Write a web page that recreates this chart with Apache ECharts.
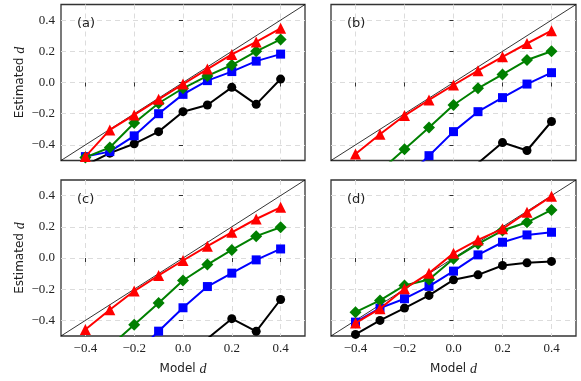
<!DOCTYPE html>
<html>
<head>
<meta charset="utf-8">
<script src="https://cdn.jsdelivr.net/npm/echarts@6/dist/echarts.min.js"></script>
<style>
  html, body { margin: 0; padding: 0; background: #fff; }
  #chart { width: 581px; height: 381px; }
</style>
</head>
<body>
<div id="chart"></div>
<script>
const modelD = [-0.4, -0.3, -0.2, -0.1, 0.0, 0.1, 0.2, 0.3, 0.4]
const ticks = [-0.4, -0.2, 0.0, 0.2, 0.4]
const diagonal = [[-0.5, -0.5], [0.5, 0.5]]
const panelLabels = ['(a)', '(b)', '(c)', '(d)']

// estimated d for each panel: red, green, blue, black
const redA = [-0.475, -0.304, -0.208, -0.108, -0.01, 0.086, 0.18, 0.26, 0.347]
const greenA = [-0.48, -0.417, -0.26, -0.133, -0.037, 0.042, 0.112, 0.2, 0.276]
const blueA = [-0.475, -0.443, -0.342, -0.2, -0.076, 0.012, 0.07, 0.137, 0.182]
const blackA = [-0.53, -0.453, -0.393, -0.315, -0.187, -0.144, -0.031, -0.14, 0.022]

const redB = [-0.458, -0.332, -0.212, -0.112, -0.016, 0.076, 0.165, 0.25, 0.332]
const greenB = [-0.72, -0.567, -0.428, -0.289, -0.144, -0.037, 0.052, 0.144, 0.2]
const blueB = [-0.9, -0.77, -0.62, -0.469, -0.315, -0.187, -0.097, -0.01, 0.063]
const blackB = [-0.9, -0.8, -0.7, -0.6, -0.55, -0.517, -0.385, -0.436, -0.25]

const redC = [-0.458, -0.332, -0.212, -0.112, -0.016, 0.076, 0.165, 0.25, 0.325]
const greenC = [-0.72, -0.567, -0.428, -0.289, -0.144, -0.042, 0.052, 0.14, 0.197]
const blueC = [-0.9, -0.77, -0.62, -0.469, -0.319, -0.183, -0.097, -0.012, 0.058]
const blackC = [-0.9, -0.8, -0.7, -0.6, -0.55, -0.517, -0.389, -0.47, -0.266]

const redD = [-0.417, -0.325, -0.197, -0.097, 0.031, 0.116, 0.187, 0.293, 0.396]
const greenD = [-0.347, -0.272, -0.176, -0.138, -0.005, 0.091, 0.176, 0.229, 0.308]
const blueD = [-0.411, -0.321, -0.261, -0.182, -0.084, 0.02, 0.101, 0.148, 0.165]
const blackD = [-0.49, -0.4, -0.321, -0.24, -0.14, -0.108, -0.048, -0.031, -0.022]

const panels = [
  [redA, greenA, blueA, blackA],
  [redB, greenB, blueB, blackB],
  [redC, greenC, blueC, blackC],
  [redD, greenD, blueD, blackD]
]

const styles = [
  { color: '#ff0000', symbol: 'triangle', size: 11 },
  { color: '#008000', symbol: 'diamond', size: 12 },
  { color: '#0000ff', symbol: 'rect', size: 9 },
  { color: '#000000', symbol: 'circle', size: 9 }
]

const grids = [
  { left: 61, top: 4.5, width: 244, height: 156 },
  { left: 331, top: 4.5, width: 245, height: 156 },
  { left: 61, top: 180, width: 244, height: 156 },
  { left: 331, top: 180, width: 245, height: 156 }
]

const fmt = v => (v < 0 ? '\u2212' : '') + Math.abs(v).toFixed(1)
const tickFont = { fontFamily: 'Liberation Serif', fontSize: 13, color: '#222' }
const nameStyle = {
  fontFamily: 'DejaVu Sans', fontSize: 12, color: '#222',
  rich: { i: { fontFamily: 'Liberation Serif', fontStyle: 'italic', fontSize: 14, color: '#222' } }
}

const chart = echarts.init(document.getElementById('chart'), null, { renderer: 'canvas' })

const makeAxis = (i, showLabel, name, gap) => ({
  gridIndex: i,
  type: 'value',
  min: -0.5,
  max: 0.5,
  interval: 0.1,
  name: name,
  nameLocation: 'middle',
  nameGap: gap,
  nameTextStyle: nameStyle,
  axisLine: { show: false },
  axisTick: {
    show: true, length: 4, lineStyle: { color: '#333', width: 1 },
    customValues: ticks
  },
  axisLabel: {
    show: showLabel, ...tickFont, margin: 6, formatter: fmt,
    customValues: ticks
  },
  splitLine: {
    show: true,
    lineStyle: { color: '#dcdcdc', type: [5, 4], width: 1 }
  }
})

const xAxis = grids.map((g, i) => makeAxis(i, i >= 2, i >= 2 ? 'Model {i|d}' : '', 26))
const yAxis = grids.map((g, i) => makeAxis(i, i % 2 === 0, i % 2 === 0 ? 'Estimated {i|d}' : '', 34))

const series = []
panels.forEach((sets, i) => {
  series.push({
    type: 'line',
    xAxisIndex: i,
    yAxisIndex: i,
    data: diagonal,
    symbol: 'none',
    lineStyle: { color: '#000', width: 0.8 },
    silent: true,
    z: 1
  })
  sets.forEach((vals, k) => {
    const s = styles[k]
    series.push({
      type: 'line',
      xAxisIndex: i,
      yAxisIndex: i,
      data: modelD.map((x, j) => [x, vals[j]]),
      symbol: s.symbol,
      symbolSize: s.size,
      showAllSymbol: true,
      clip: true,
      lineStyle: { color: s.color, width: 2 },
      itemStyle: { color: s.color },
      z: 10 - k
    })
  })
})

chart.setOption({
  animation: false,
  backgroundColor: '#fff',
  grid: grids.map(g => ({ ...g, show: true, borderColor: '#333', borderWidth: 1.3, backgroundColor: 'transparent' })),
  title: grids.map((g, i) => ({
    text: panelLabels[i],
    left: g.left + 11,
    top: g.top + 8,
    textStyle: { fontFamily: 'DejaVu Sans', fontSize: 13, fontWeight: 'normal', color: '#222' }
  })),
  xAxis,
  yAxis,
  series
})
</script>
</body>
</html>
